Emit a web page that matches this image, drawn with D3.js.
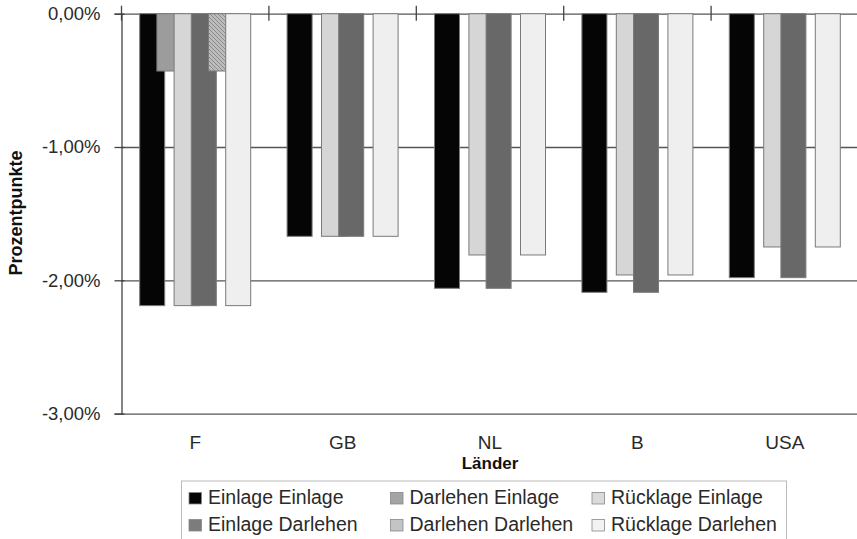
<!DOCTYPE html>
<html>
<head>
<meta charset="utf-8">
<script src="https://cdn.jsdelivr.net/npm/d3@7"></script>
<style>
  body { margin: 0; background: #fff; }
  svg { display: block; font-family: "Liberation Sans", Arial, sans-serif; }
</style>
</head>
<body>
<svg id="chart" width="857" height="539"></svg>
<script>
// Daten (Prozentpunkte)
const categories = ['F', 'GB', 'NL', 'B', 'USA'];
const seriesNames = ['Einlage Einlage', 'Darlehen Einlage', 'Rücklage Einlage',
  'Einlage Darlehen', 'Darlehen Darlehen', 'Rücklage Darlehen'];
const einlageEinlage = [-2.19, -1.67, -2.06, -2.09, -1.98];
const darlehenEinlage = [-0.43, 0, 0, 0, 0];
const ruecklageEinlage = [-2.19, -1.67, -1.81, -1.96, -1.75];
const einlageDarlehen = [-2.19, -1.67, -2.06, -2.09, -1.98];
const darlehenDarlehen = [-0.43, 0, 0, 0, 0];
const ruecklageDarlehen = [-2.19, -1.67, -1.81, -1.96, -1.75];
const yTicks = [0, -1, -2, -3];

const seriesValues = [einlageEinlage, darlehenEinlage, ruecklageEinlage,
  einlageDarlehen, darlehenDarlehen, ruecklageDarlehen];
const fills = ['#050505', '#9c9c9c', '#d6d6d6', '#686868', 'url(#hatch)', '#efefef'];
const legendFills = ['#050505', '#a4a4a4', '#dadada', '#7c7c7c', '#c4c4c4', '#f2f2f2'];

const margin = {top: 13.7, right: -1.5, bottom: 125.4, left: 121.5};
const width = 857, height = 539;

const svg = d3.select('#chart');

// Schraffur für Darlehen Darlehen
const pat = svg.append('defs').append('pattern')
  .attr('id', 'hatch')
  .attr('patternUnits', 'userSpaceOnUse')
  .attr('width', 4).attr('height', 4);
pat.append('rect').attr('width', 4).attr('height', 4).attr('fill', '#bcbcbc');
pat.append('path').attr('d', 'M-1,-1 L5,5 M-1,3 L1,5 M3,-1 L5,1')
  .attr('stroke', '#8c8c8c').attr('stroke-width', 1);

const x = d3.scaleBand()
  .domain(categories)
  .range([margin.left, width - margin.right]);

const y = d3.scaleLinear()
  .domain([-3, 0])
  .range([height - margin.bottom, margin.top]);

// Balken innerhalb einer Gruppe: Schritt 17,2 px, Breite 25 px (überlappend)
const barStep = 17.2, barWidth = 25;
const xs = d3.scaleBand()
  .domain(d3.range(seriesNames.length))
  .range([0, barStep * seriesNames.length]);
const groupOffset = (x.bandwidth() - (barStep * (seriesNames.length - 1) + barWidth)) / 2;

const locale = d3.formatLocale({decimal: ',', thousands: '.', grouping: [3], currency: ['', '€'], minus: '-'});
const fmt = locale.format('.2%');

// Gitterlinien
svg.append('g')
  .attr('transform', `translate(${margin.left},0)`)
  .call(d3.axisLeft(y).tickValues(yTicks).tickSize(-(width - margin.left - margin.right)).tickFormat(''))
  .call(g => g.select('.domain').remove())
  .call(g => g.selectAll('.tick line').attr('stroke', '#555').attr('stroke-width', 1.3));

// Balken
seriesValues.forEach((vals, si) => {
  svg.append('g')
    .selectAll('rect')
    .data(vals.map((v, i) => ({cat: categories[i], v})).filter(d => d.v !== 0))
    .join('rect')
    .attr('x', d => x(d.cat) + groupOffset + xs(si))
    .attr('y', y(0))
    .attr('width', barWidth)
    .attr('height', d => y(d.v) - y(0))
    .attr('fill', fills[si])
    .attr('stroke', '#7a7a7a')
    .attr('stroke-width', 1);
});

// Kategoriemarken an der Nulllinie
svg.append('g')
  .selectAll('line')
  .data(categories)
  .join('line')
  .attr('x1', d => x(d)).attr('x2', d => x(d))
  .attr('y1', y(0) - 8).attr('y2', y(0) + 7)
  .attr('stroke', '#444').attr('stroke-width', 1.3);

// Y-Achse
svg.append('g')
  .attr('transform', `translate(${margin.left},0)`)
  .call(d3.axisLeft(y).tickValues(yTicks).tickSize(7).tickPadding(14).tickFormat(d => fmt(d / 100)))
  .call(g => g.select('.domain').attr('stroke', '#444').attr('stroke-width', 1.3))
  .call(g => g.selectAll('.tick line').attr('x1', 3).attr('stroke', '#444').attr('stroke-width', 1.3))
  .call(g => g.selectAll('.tick text')
    .attr('font-size', 18.5).attr('fill', '#2a2a2a')
    .attr('font-family', '"Liberation Sans", Arial, sans-serif'));

// X-Achsenbeschriftung
svg.append('g')
  .attr('transform', `translate(0,${y(-3)})`)
  .call(d3.axisBottom(x).tickSize(0).tickPadding(22))
  .call(g => g.select('.domain').remove())
  .call(g => g.selectAll('.tick text')
    .attr('font-size', 19).attr('fill', '#2a2a2a')
    .attr('font-family', '"Liberation Sans", Arial, sans-serif'));

// Achsentitel
svg.append('text')
  .attr('x', (margin.left + width - margin.right) / 2)
  .attr('y', 469)
  .attr('text-anchor', 'middle')
  .attr('font-size', 17).attr('font-weight', 'bold').attr('fill', '#111')
  .text('Länder');

svg.append('text')
  .attr('transform', 'translate(22,213) rotate(-90)')
  .attr('text-anchor', 'middle')
  .attr('font-size', 18).attr('font-weight', 'bold').attr('fill', '#111')
  .text('Prozentpunkte');

// Legende
const legend = svg.append('g');
legend.append('rect')
  .attr('x', 181.5).attr('y', 481)
  .attr('width', 605).attr('height', 70)
  .attr('fill', '#fff').attr('stroke', '#bbb').attr('stroke-width', 1);

const colX = [189, 390.5, 592];
const rowY = [492.5, 519.5];
const items = legend.selectAll('g.item')
  .data(seriesNames)
  .join('g')
  .attr('class', 'item')
  .attr('transform', (d, i) => `translate(${colX[i % 3]},${rowY[Math.floor(i / 3)]})`);
items.append('rect')
  .attr('width', 12.5).attr('height', 11.5)
  .attr('fill', (d, i) => legendFills[i])
  .attr('stroke', '#888').attr('stroke-width', 0.8);
items.append('text')
  .attr('x', 19).attr('y', 11.5)
  .attr('font-size', 19.5).attr('fill', '#2a2a2a')
  .text(d => d);
</script>
</body>
</html>
